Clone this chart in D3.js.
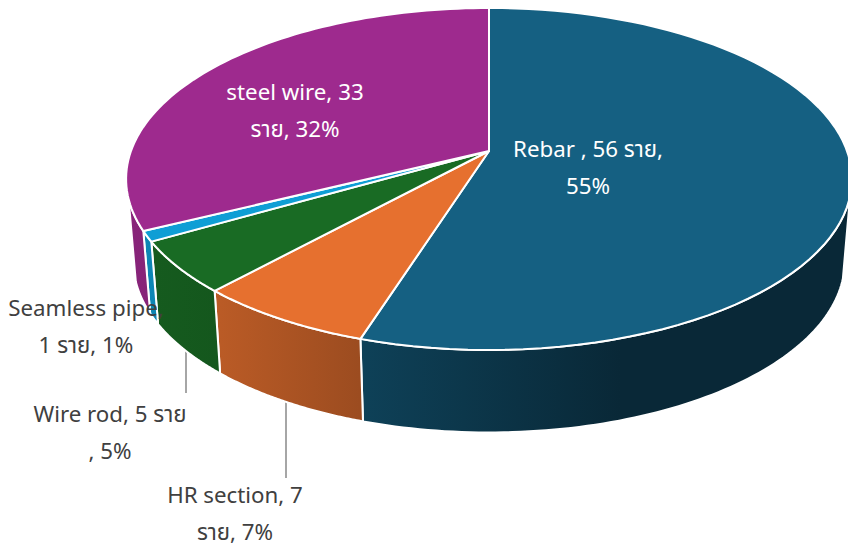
<!DOCTYPE html>
<html>
<head>
<meta charset="utf-8">
<script src="https://cdn.jsdelivr.net/npm/d3@7"></script>
<style>
  body { margin: 0; background: white; overflow: hidden; }
  text { font-family: "Noto Sans", "Noto Sans Thai", "DejaVu Sans", sans-serif; font-size: 22.3px; text-anchor: middle; }
</style>
</head>
<body>
<script>
const categories = ["Rebar", "HR section", "Wire rod", "Seamless pipe", "steel wire"];
const counts = [56, 7, 5, 1, 33];
const sliceColors = ["#156082", "#E6702F", "#196B24", "#0F9ED5", "#9E2A8E"];
const labelLines = [
    ["Rebar , 56 ราย,", "55%"],
    ["HR section, 7", "ราย, 7%"],
    ["Wire rod, 5 ราย", ", 5%"],
    ["Seamless pipe,", "1 ราย, 1%"],
    ["steel wire, 33", "ราย, 32%"]
];

const width = 848, height = 546;

// perspective of the top face, fitted to the picture
const cx = 489, cy = 151;
const A = 358, B = 166.4, k = 0.1637;
// bottom face
const bottomScale = 0.98, depth = 82.5;
// which part of the wall can be seen (radians, clockwise from top)
const wallFrom = 105 * Math.PI / 180, wallTo = 254 * Math.PI / 180;

function topPoint(a) {
    const u = Math.sin(a), v = -Math.cos(a);
    const w = 1 - k * v;
    return [cx + A * u / w, cy + B * v / w];
}
function bottomPoint(a) {
    const p = topPoint(a);
    return [cx + (p[0] - cx) * bottomScale, p[1] + depth];
}
function arcPoints(fn, a0, a1) {
    return d3.range(0, 1.0001, 1 / 80).map(t => fn(a0 + (a1 - a0) * t));
}

const svg = d3.select("body").append("svg")
    .attr("width", width)
    .attr("height", height)
    .attr("style", "display:block;background:white;");

const slices = d3.pie().sort(null)(counts);
const line = d3.line();

// wall gets darker to the right
const shade = d3.scaleLinear().domain([130, 220, 360, 620, 848]).range([0.86, 0.81, 0.68, 0.42, 0.42]);
const defs = svg.append("defs");
slices.forEach((d, i) => {
    const grad = defs.append("linearGradient")
        .attr("id", "wall" + i)
        .attr("gradientUnits", "userSpaceOnUse")
        .attr("x1", 0).attr("x2", width).attr("y1", 0).attr("y2", 0);
    const c = d3.rgb(sliceColors[i]);
    shade.domain().forEach(x => {
        const s = shade(x);
        grad.append("stop")
            .attr("offset", x / width)
            .attr("stop-color", d3.rgb(c.r * s, c.g * s, c.b * s).formatHex());
    });
});

// leader lines
const leaders = [
    [186, 340, 393],
    [286, 395, 478]
];
svg.selectAll("line.leader").data(leaders).join("line")
    .attr("class", "leader")
    .attr("x1", d => d[0]).attr("x2", d => d[0])
    .attr("y1", d => d[1]).attr("y2", d => d[2])
    .attr("stroke", "#a6a6a6")
    .attr("stroke-width", 2);

// walls
slices.forEach((d, i) => {
    const a0 = Math.max(d.startAngle, wallFrom);
    const a1 = Math.min(d.endAngle, wallTo);
    if (a1 <= a0) return;
    const pts = arcPoints(topPoint, a0, a1).concat(arcPoints(bottomPoint, a1, a0));
    svg.append("path")
        .attr("d", line(pts) + "Z")
        .attr("fill", "url(#wall" + i + ")")
        .attr("stroke", "white")
        .attr("stroke-width", 2)
        .attr("stroke-linejoin", "round");
});

// top face
slices.forEach((d, i) => {
    const pts = [[cx, cy]].concat(arcPoints(topPoint, d.startAngle, d.endAngle));
    svg.append("path")
        .attr("d", line(pts) + "Z")
        .attr("fill", sliceColors[i])
        .attr("stroke", "white")
        .attr("stroke-width", 2)
        .attr("stroke-linejoin", "round");
});

// labels, in slice order
const labelAt = [[588, 157], [235, 503], [110, 422], [86, 316], [295, 100]];
const labelFill = ["white", "#404040", "#404040", "#404040", "white"];
const lineGap = 36.5;
labelLines.forEach((lines, i) => {
    lines.forEach((s, j) => {
        svg.append("text")
            .attr("x", labelAt[i][0])
            .attr("y", labelAt[i][1] + j * lineGap)
            .attr("fill", labelFill[i])
            .text(s);
    });
});
</script>
</body>
</html>
